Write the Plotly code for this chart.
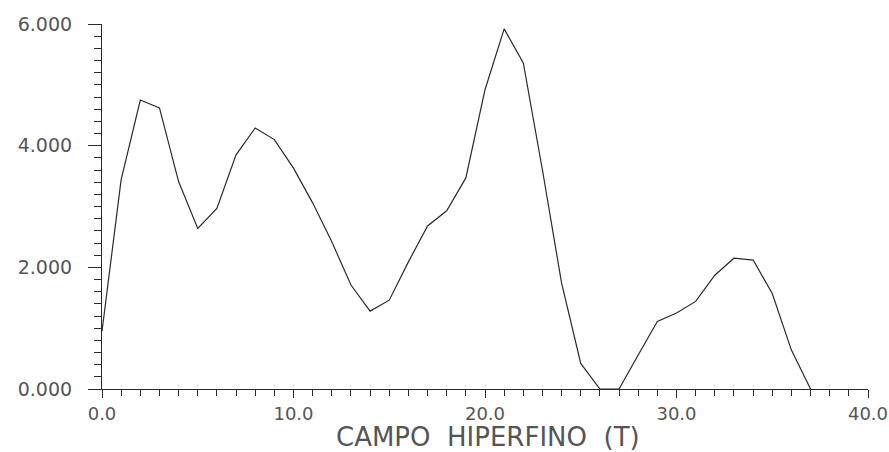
import plotly.graph_objects as go

# Hyperfine field distribution, sampled every 1 T
campo = list(range(0, 38))
intensidad = [
    0.95, 3.44, 4.75, 4.62, 3.41, 2.64, 2.97, 3.85, 4.29, 4.10,
    3.63, 3.06, 2.42, 1.71, 1.28, 1.46, 2.09, 2.68, 2.93, 3.47,
    4.92, 5.92, 5.36, 3.60, 1.74, 0.42, 0.00, 0.00, 0.56, 1.11,
    1.25, 1.44, 1.87, 2.15, 2.12, 1.57, 0.64, 0.00,
]
x_ticks = [0, 10, 20, 30, 40]
x_labels = ["0.0", "10.0", "20.0", "30.0", "40.0"]
y_ticks = [0, 2, 4, 6]
y_labels = ["0.000", "2.000", "4.000", "6.000"]
x_title = "CAMPO  HIPERFINO  (T)"

ink = "#2a2a2a"
label_color = "#555555"

# plot area in pixels
W, H = 889, 452
L, R, T, B = 102, 21, 24, 63
plot_w = W - L - R
plot_h = H - T - B

fig = go.Figure(
    go.Scatter(
        x=campo,
        y=intensidad,
        mode="lines",
        line=dict(color=ink, width=1.2),
        hoverinfo="skip",
    )
)

fig.update_layout(
    width=W,
    height=H,
    margin=dict(l=L, r=R, t=T, b=B, autoexpand=False),
    paper_bgcolor="white",
    plot_bgcolor="white",
    showlegend=False,
)

fig.update_xaxes(
    range=[0, 40],
    automargin=False,
    tickmode="array",
    tickvals=x_ticks,
    ticktext=x_labels,
    ticks="outside",
    ticklen=8,
    tickwidth=1.2,
    tickcolor=ink,
    minor=dict(dtick=1, ticks="outside", ticklen=6, tickwidth=1, tickcolor=ink),
    showline=True,
    linecolor=ink,
    linewidth=1.2,
    showgrid=False,
    zeroline=False,
    ticklabeloverflow="allow",
    tickfont=dict(family="DejaVu Sans", size=18, color=label_color),
)

fig.update_yaxes(
    range=[0, 6],
    automargin=False,
    tickmode="array",
    tickvals=y_ticks,
    ticktext=y_labels,
    ticks="outside",
    ticklen=13,
    tickwidth=1.2,
    tickcolor=ink,
    minor=dict(dtick=0.2, ticks="outside", ticklen=7, tickwidth=1, tickcolor=ink),
    showline=True,
    linecolor=ink,
    linewidth=1.2,
    showgrid=False,
    zeroline=False,
    ticklabelstandoff=12,
    ticklabeloverflow="allow",
    tickfont=dict(family="DejaVu Sans", size=19, color=label_color),
)

# axis title placed as an annotation below the tick labels
fig.add_annotation(
    text=x_title,
    xref="paper",
    yref="paper",
    x=(488 - L) / plot_w,
    y=-(436.5 - (T + plot_h)) / plot_h,
    xanchor="center",
    yanchor="middle",
    showarrow=False,
    borderpad=0,
    font=dict(family="DejaVu Sans", size=26, color=label_color),
)

fig.write_html("out.html")
